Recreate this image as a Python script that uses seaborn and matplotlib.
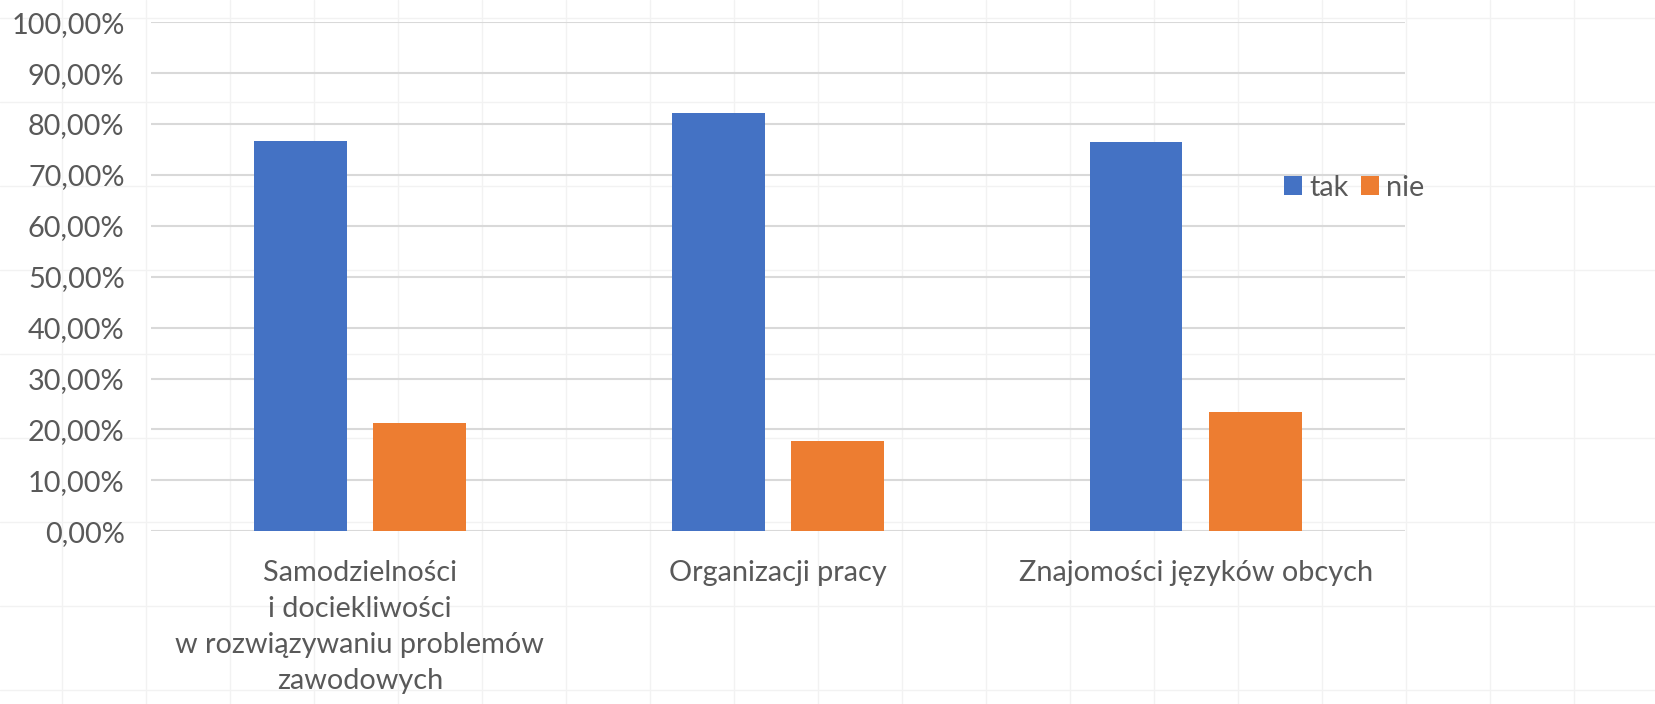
import matplotlib
matplotlib.use("Agg")
import matplotlib.pyplot as plt
import matplotlib.ticker as mticker
from matplotlib.patches import Patch
import numpy as np
import pandas as pd
import seaborn as sns

# Survey answers per competence area
categories = [
    "Samodzielności\ni dociekliwości\nw rozwiązywaniu problemów\nzawodowych",
    "Organizacji pracy",
    "Znajomości języków obcych",
]
answers = ["tak", "nie"]
tak_values = [0.767, 0.821, 0.764]
nie_values = [0.213, 0.177, 0.234]
y_ticks = [0.0, 0.1, 0.2, 0.3, 0.4, 0.5, 0.6, 0.7, 0.8, 0.9, 1.0]

colors = {"tak": "#4472C4", "nie": "#ED7D31"}
text_color = "#595959"

df = pd.DataFrame({
    "kategoria": categories * 2,
    "odpowiedz": ["tak"] * len(categories) + ["nie"] * len(categories),
    "udzial": tak_values + nie_values,
})

sns.set_theme(style="white")
plt.rcParams["font.family"] = ["Lato", "DejaVu Sans"]

W, H = 1656, 704
fig = plt.figure(figsize=(W / 100, H / 100), dpi=100)
fig.patch.set_facecolor("white")

# faint worksheet cell grid behind the chart
bg = fig.add_axes([0, 0, 1, 1], zorder=-5)
bg.set_xlim(0, W)
bg.set_ylim(H, 0)
bg.set_xticks(np.arange(62, W, 84))
bg.set_yticks(np.arange(18, H, 84))
bg.grid(True, color="#f2f2f2", linewidth=1.0)
bg.tick_params(length=0, labelbottom=False, labelleft=False)
for s in bg.spines.values():
    s.set_visible(False)

ax = fig.add_axes([151 / W, 1 - 531.2 / H, (1404.6 - 151) / W, (531.2 - 22.2) / H])
ax.set_facecolor("none")

sns.barplot(
    data=df, x="kategoria", y="udzial", hue="odpowiedz",
    hue_order=answers, order=categories, palette=colors,
    width=0.571, gap=0.221, ax=ax, legend=False, saturation=1,
    linewidth=0,
)

fs = 20.8
ax.set_ylim(0, 1.0)
ax.set_xlim(-0.5, len(categories) - 0.5)
ax.set_yticks(y_ticks)
ax.yaxis.set_major_formatter(
    mticker.FuncFormatter(lambda v, _: f"{v * 100:.2f}%".replace(".", ","))
)
ax.yaxis.grid(True, color="#d9d9d9", linewidth=1.5)
ax.set_axisbelow(True)
for s in ax.spines.values():
    s.set_visible(False)
ax.set_xlabel("")
ax.set_ylabel("")
ax.tick_params(axis="y", length=0, pad=19, labelsize=fs, labelcolor=text_color)
ax.tick_params(axis="x", length=0, pad=21, labelsize=fs, labelcolor=text_color)
for lbl in ax.get_xticklabels():
    lbl.set_linespacing(1.47)
    lbl.set_horizontalalignment("center")

handles = [Patch(facecolor=colors[a], edgecolor="none", label=a) for a in answers]
fig.legend(
    handles=handles, loc="center left", bbox_to_anchor=(1284 / W, 1 - 188 / H),
    ncol=2, frameon=False, fontsize=fs, labelcolor=text_color,
    handlelength=0.62, handleheight=0.62, handletextpad=0.26,
    columnspacing=0.42, borderpad=0, borderaxespad=0,
)

fig.savefig("out.png", dpi=100, facecolor="white")
